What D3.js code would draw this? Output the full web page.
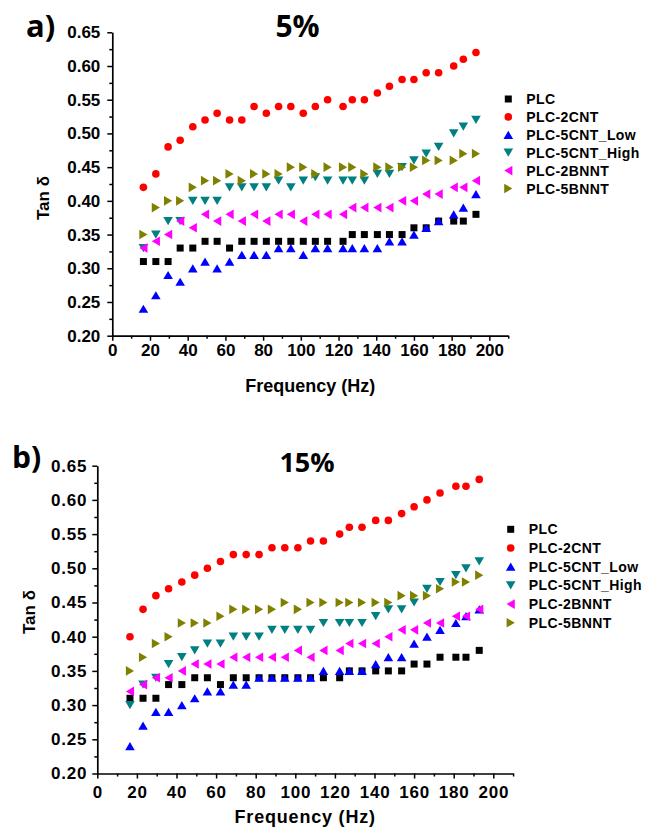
<!DOCTYPE html>
<html>
<head>
<meta charset="utf-8">
<script src="https://cdn.jsdelivr.net/npm/d3@7"></script>
<style>
  body { margin: 0; background: #fff; }
  svg { display: block; }
  text { fill: #000; }
</style>
</head>
<body>
<svg id="chart" width="651" height="828"></svg>
<script>
// Measurement frequencies (Hz), shared by every sample
const frequency = [16.5, 23.1, 29.6, 36.0, 42.7, 49.2, 55.6, 62.2, 68.7, 75.2, 81.7, 88.2, 94.7,
  101.3, 107.7, 114.2, 122.4, 127.3, 133.7, 140.6, 147.0, 153.7, 160.0, 166.5, 173.1, 181.1, 186.2, 192.9];

const seriesNames = ["PLC", "PLC-2CNT", "PLC-5CNT_Low", "PLC-5CNT_High", "PLC-2BNNT", "PLC-5BNNT"];
const seriesColors = ["#000000", "#ff0000", "#0000ff", "#008080", "#ff00ff", "#808000"];
const seriesShapes = ["square", "circle", "up", "down", "left", "right"];

const xTickValues = [0, 20, 40, 60, 80, 100, 120, 140, 160, 180, 200];
const yTickValues = [0.20, 0.25, 0.30, 0.35, 0.40, 0.45, 0.50, 0.55, 0.60, 0.65];

// Tan δ at 5 % loading
const plc5 = [0.31, 0.31, 0.31, 0.33, 0.33, 0.34, 0.34, 0.33, 0.34, 0.34, 0.34, 0.34, 0.34,
  0.34, 0.34, 0.34, 0.34, 0.35, 0.35, 0.35, 0.35, 0.35, 0.36, 0.36, 0.37, 0.37, 0.37, 0.38];
const cnt2_5 = [0.42, 0.44, 0.48, 0.49, 0.51, 0.52, 0.53, 0.52, 0.52, 0.54, 0.53, 0.54, 0.54,
  0.53, 0.54, 0.55, 0.54, 0.55, 0.55, 0.56, 0.57, 0.58, 0.58, 0.59, 0.59, 0.60, 0.61, 0.62];
const cnt5Low_5 = [0.24, 0.26, 0.29, 0.28, 0.30, 0.31, 0.30, 0.31, 0.32, 0.32, 0.32, 0.33, 0.33,
  0.32, 0.33, 0.33, 0.33, 0.33, 0.33, 0.33, 0.34, 0.34, 0.35, 0.36, 0.37, 0.38, 0.39, 0.41];
const cnt5High_5 = [0.33, 0.35, 0.37, 0.37, 0.40, 0.40, 0.40, 0.42, 0.42, 0.42, 0.42, 0.43, 0.42,
  0.43, 0.435, 0.43, 0.43, 0.43, 0.43, 0.44, 0.44, 0.45, 0.46, 0.47, 0.48, 0.50, 0.51, 0.52];
const bnnt2_5 = [0.33, 0.34, 0.35, 0.37, 0.36, 0.38, 0.37, 0.38, 0.37, 0.38, 0.37, 0.38, 0.38,
  0.37, 0.38, 0.38, 0.38, 0.39, 0.39, 0.39, 0.39, 0.40, 0.40, 0.41, 0.41, 0.42, 0.42, 0.43];
const bnnt5_5 = [0.35, 0.39, 0.40, 0.40, 0.42, 0.43, 0.43, 0.44, 0.43, 0.44, 0.44, 0.44, 0.45,
  0.45, 0.44, 0.45, 0.45, 0.45, 0.44, 0.45, 0.45, 0.45, 0.45, 0.46, 0.46, 0.46, 0.47, 0.47];

// Tan δ at 15 % loading
const plc15 = [0.31, 0.31, 0.31, 0.33, 0.33, 0.34, 0.34, 0.33, 0.34, 0.34, 0.34, 0.34, 0.34,
  0.34, 0.34, 0.34, 0.34, 0.35, 0.35, 0.35, 0.35, 0.35, 0.36, 0.36, 0.37, 0.37, 0.37, 0.38];
const cnt2_15 = [0.40, 0.44, 0.46, 0.47, 0.48, 0.49, 0.50, 0.51, 0.52, 0.52, 0.52, 0.53, 0.53,
  0.53, 0.54, 0.54, 0.55, 0.56, 0.56, 0.57, 0.57, 0.58, 0.59, 0.60, 0.61, 0.62, 0.62, 0.63];
const cnt5Low_15 = [0.24, 0.27, 0.29, 0.29, 0.30, 0.31, 0.32, 0.32, 0.33, 0.33, 0.34, 0.34, 0.34,
  0.34, 0.34, 0.35, 0.35, 0.35, 0.35, 0.36, 0.37, 0.37, 0.39, 0.40, 0.41, 0.42, 0.43, 0.44];
const cnt5High_15 = [0.30, 0.33, 0.34, 0.36, 0.37, 0.38, 0.39, 0.39, 0.40, 0.40, 0.40, 0.41, 0.41,
  0.41, 0.41, 0.42, 0.42, 0.42, 0.42, 0.43, 0.44, 0.44, 0.45, 0.47, 0.48, 0.49, 0.50, 0.51];
const bnnt2_15 = [0.32, 0.33, 0.34, 0.34, 0.35, 0.36, 0.36, 0.36, 0.37, 0.37, 0.37, 0.37, 0.37,
  0.38, 0.37, 0.38, 0.38, 0.39, 0.39, 0.39, 0.40, 0.41, 0.41, 0.42, 0.42, 0.43, 0.43, 0.44];
const bnnt5_15 = [0.35, 0.37, 0.39, 0.40, 0.42, 0.42, 0.42, 0.43, 0.44, 0.44, 0.44, 0.44, 0.45,
  0.44, 0.45, 0.45, 0.45, 0.45, 0.45, 0.45, 0.45, 0.46, 0.46, 0.46, 0.47, 0.48, 0.48, 0.49];

// Layout of the two stacked panels
const panels = [
  {
    tag: "a)", title: "5%",
    series: [plc5, cnt2_5, cnt5Low_5, cnt5High_5, bnnt2_5, bnnt5_5],
    left: 112.3, right: 508.2, top: 32.3, bottom: 335.7,
    tagPos: [26, 37], tagSize: 31, titlePos: [297.5, 37], titleSize: 30,
    yLabelPos: [48.5, 198], xLabelY: 392,
    yPad: 7, xPad: 3, spacing: 0,
    legendX: 508.3, legendY: 99, legendStep: 17.9
  },
  {
    tag: "b)", title: "15%",
    series: [plc15, cnt2_15, cnt5Low_15, cnt5High_15, bnnt2_15, bnnt5_15],
    left: 97.3, right: 513.1, top: 465.7, bottom: 773.5,
    tagPos: [12, 468], tagSize: 30, titlePos: [307, 472], titleSize: 27,
    yLabelPos: [35, 612], xLabelY: 823,
    yPad: 5, xPad: 7, spacing: 0.8,
    legendX: 510.7, legendY: 529.3, legendStep: 18.7
  }
];

// Marker outlines centred on their bounding box
function markerPath(shape) {
  const p = d3.path();
  const tw = 4.8, th = 4.1;
  switch (shape) {
    case "square": p.rect(-3.5, -3.5, 7, 7); break;
    case "circle": p.arc(0, 0, 3.8, 0, 2 * Math.PI); break;
    case "up": p.moveTo(0, -th); p.lineTo(tw, th); p.lineTo(-tw, th); p.closePath(); break;
    case "down": p.moveTo(0, th); p.lineTo(tw, -th); p.lineTo(-tw, -th); p.closePath(); break;
    case "left": p.moveTo(-th, 0); p.lineTo(th, -tw); p.lineTo(th, tw); p.closePath(); break;
    case "right": p.moveTo(th, 0); p.lineTo(-th, -tw); p.lineTo(-th, tw); p.closePath(); break;
  }
  return p.toString();
}

const svg = d3.select("#chart");
const axisFont = "'Liberation Sans', Arial, sans-serif";
const titleFont = "'Open Sans', 'Noto Sans', sans-serif";

panels.forEach(cfg => {
  const g = svg.append("g");
  const x = d3.scaleLinear().domain([0, 210]).range([cfg.left, cfg.right]);
  const y = d3.scaleLinear().domain([0.20, 0.65]).range([cfg.bottom, cfg.top]);

  // minor ticks
  g.append("g")
    .attr("transform", `translate(0,${cfg.bottom})`)
    .call(d3.axisBottom(x).tickValues(d3.range(10, 211, 20)).tickSize(3).tickSizeOuter(0).tickFormat(""))
    .call(a => a.select(".domain").remove());
  g.append("g")
    .attr("transform", `translate(${cfg.left},0)`)
    .call(d3.axisLeft(y).tickValues(d3.range(0.225, 0.65, 0.05)).tickSize(3).tickSizeOuter(0).tickFormat(""))
    .call(a => a.select(".domain").remove());

  // major axes
  const xAxis = g.append("g")
    .attr("transform", `translate(0,${cfg.bottom})`)
    .call(d3.axisBottom(x).tickValues(xTickValues).tickSize(5).tickSizeOuter(0).tickPadding(cfg.xPad).tickFormat(d3.format("d")));
  const yAxis = g.append("g")
    .attr("transform", `translate(${cfg.left},0)`)
    .call(d3.axisLeft(y).tickValues(yTickValues).tickSize(5).tickSizeOuter(0).tickPadding(cfg.yPad).tickFormat(d3.format(".2f")));

  [xAxis, yAxis].forEach(a => {
    a.selectAll("text")
      .style("font-family", axisFont).style("font-size", "17px").style("font-weight", "bold")
      .style("letter-spacing", cfg.spacing + "px").attr("fill", "#000");
  });
  g.selectAll(".domain").attr("stroke", "#000").attr("stroke-width", 1.7);
  g.selectAll(".tick line").attr("stroke", "#000").attr("stroke-width", 1.5);

  // axis titles
  g.append("text")
    .attr("x", (cfg.left + cfg.right) / 2).attr("y", cfg.xLabelY)
    .attr("text-anchor", "middle")
    .style("font-family", axisFont).style("font-size", "18px").style("font-weight", "bold")
    .style("letter-spacing", cfg.spacing + "px")
    .text("Frequency (Hz)");
  g.append("text")
    .attr("transform", `translate(${cfg.yLabelPos[0]},${cfg.yLabelPos[1]}) rotate(-90)`)
    .attr("text-anchor", "middle")
    .style("font-family", axisFont).style("font-size", "17px").style("font-weight", "bold")
    .text("Tan δ");

  // panel tag and loading title
  g.append("text")
    .attr("x", cfg.tagPos[0]).attr("y", cfg.tagPos[1])
    .style("font-family", titleFont).style("font-size", cfg.tagSize + "px").style("font-weight", "bold")
    .text(cfg.tag);
  g.append("text")
    .attr("x", cfg.titlePos[0]).attr("y", cfg.titlePos[1])
    .attr("text-anchor", "middle")
    .style("font-family", titleFont).style("font-size", cfg.titleSize + "px").style("font-weight", "bold")
    .text(cfg.title);

  // scatter markers
  cfg.series.forEach((vals, si) => {
    g.append("g").selectAll("path")
      .data(vals.map((v, i) => ({ f: frequency[i], v })))
      .join("path")
      .attr("d", markerPath(seriesShapes[si]))
      .attr("transform", d => `translate(${x(d.f)},${y(d.v)})`)
      .attr("fill", seriesColors[si]);
  });

  // legend
  const lg = g.append("g");
  seriesNames.forEach((name, si) => {
    const ly = cfg.legendY + si * cfg.legendStep;
    lg.append("path")
      .attr("d", markerPath(seriesShapes[si]))
      .attr("transform", `translate(${cfg.legendX},${ly})`)
      .attr("fill", seriesColors[si]);
    lg.append("text")
      .attr("x", cfg.legendX + 18).attr("y", ly + 5)
      .style("font-family", axisFont).style("font-size", "14px").style("font-weight", "bold")
      .style("letter-spacing", "0.4px")
      .text(name);
  });
});
</script>
</body>
</html>
